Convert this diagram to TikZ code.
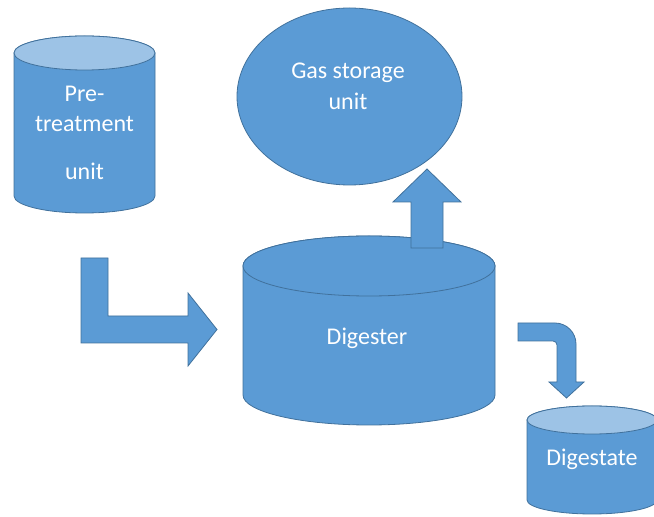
\documentclass[tikz,border=0pt]{standalone}
\usepackage{fontspec}
\setmainfont{Carlito}
\definecolor{boxblue}{HTML}{5B9BD5}
\definecolor{boxline}{HTML}{41719C}
\definecolor{toplight}{HTML}{9DC3E6}
\tikzset{
  shapefill/.style={fill=boxblue, draw=boxline, line width=0.8pt, line join=miter},
  topfill/.style={fill=toplight, draw=boxline, line width=0.8pt},
  label/.style={text=white, font=\fontsize{24}{29}\selectfont, anchor=base, inner sep=0pt}
}
\begin{document}
\begin{tikzpicture}[x=1pt,y=1pt]
\useasboundingbox (0,0) rectangle (654,517);
\clip (0,0) rectangle (654,517);
% Pre-treatment cylinder
\draw[shapefill] (14,464) -- (14,321) arc[start angle=180,end angle=360,x radius=70.5,y radius=17] -- (155,464) arc[start angle=0,end angle=180,x radius=70.5,y radius=17] -- cycle;
\draw[topfill] (84.5,464) ellipse[x radius=70.5,y radius=17];
\node[label] (pre1) at (84.5,415) {Pre-};
\node[label] (pre2) at (84.5,385) {treatment};
\node[label] (pre3) at (84.5,337) {unit};
% Gas storage ellipse
\draw[shapefill] (349.5,420.5) ellipse[x radius=112.5,y radius=88.5];
\node[label] (gas1) at (348,438) {Gas storage};
\node[label] (gas2) at (348,407) {unit};
% Digester cylinder
\draw[shapefill] (243,251) -- (243,122) arc[start angle=180,end angle=360,x radius=126,y radius=30] -- (495,251) arc[start angle=0,end angle=180,x radius=126,y radius=30] -- cycle;
\draw[shapefill] (369,251) ellipse[x radius=126,y radius=30];
\node[label] (dig) at (367,172) {Digester};
% Digestate cylinder
\draw[shapefill] (527,97) -- (527,17) arc[start angle=180,end angle=360,x radius=65,y radius=14] -- (657,97) arc[start angle=0,end angle=180,x radius=65,y radius=14] -- cycle;
\draw[topfill] (592,97) ellipse[x radius=65,y radius=14];
\node[label] (dgs) at (592,51) {Digestate};
% Up arrow (digester to gas storage)
\draw[shapefill] (411,269) -- (411,315) -- (393,315) -- (427,348) -- (461,315) -- (443,315) -- (443,269) -- cycle;
% Bent arrow (pre-treatment to digester)
\draw[shapefill] (81,259) -- (108,259) -- (108,201) -- (188,201) -- (188,224) -- (217,187.5) -- (188,151) -- (188,174) -- (81,174) -- cycle;
% Curved arrow (digester to digestate)
\draw[shapefill] (518,194) -- (555,194) arc[start angle=90,end angle=0,radius=21] -- (576,135) -- (584,135) -- (566.5,119) -- (549,135) -- (557,135) -- (557,172) arc[start angle=0,end angle=90,radius=4] -- (518,176) -- cycle;
\end{tikzpicture}
\end{document}
